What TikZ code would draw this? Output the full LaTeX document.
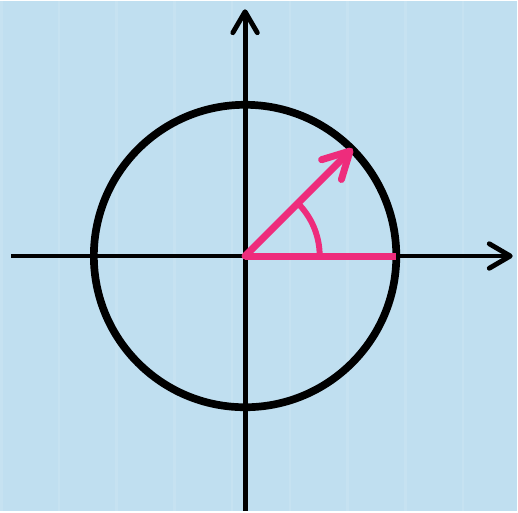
\documentclass[tikz,border=0pt]{standalone}
\usetikzlibrary{arrows.meta, calc}

\definecolor{paperblue}{HTML}{C0DFF0}
\definecolor{gridblue}{HTML}{C6E2F1}
\definecolor{anglepink}{HTML}{EE2C7C}

\begin{document}
\begin{tikzpicture}[
    x=0.02cm, y=-0.02cm,
    axis/.style = {draw=black, line width=2.8pt, -{Straight Barb[length=12pt, width=14pt, line cap=round, line join=round]}},
    ring/.style = {draw=black, line width=4.4pt},
    radius line/.style = {draw=anglepink, line width=4pt},
    vec/.style = {draw=anglepink, line width=4pt, line cap=round, -{Straight Barb[length=15pt, width=16pt, line cap=round, line join=round]}},
    angle arc/.style = {draw=anglepink, line width=3.4pt},
]

% Background
\fill[paperblue] (0,0) rectangle (518,512);
\draw[gridblue, line width=1.5pt] (0,0) grid[step=58] (518,512);
\useasboundingbox (0,0) rectangle (518,512);

% Points
\coordinate (O) at (245,256);
\coordinate (xl) at (10,256);
\coordinate (xr) at (514,256);
\coordinate (yb) at (245,512);
\coordinate (yt) at (245,8);
\coordinate (P) at ($(O)+(152,0)$);
\coordinate (Q) at (353,148);

% Axes
\path [axis] (xl) -- (xr);
\path [axis] (yb) -- (yt);

% Unit circle
\draw [ring] (O) circle[radius=152];

% Angle and vectors
\draw [angle arc] ($(O)+(75,0)$) arc[start angle=0, end angle=-45, radius=75];
\path [radius line] (O) -- (P);
\path [vec] (O) -- (Q);

\end{tikzpicture}
\end{document}
